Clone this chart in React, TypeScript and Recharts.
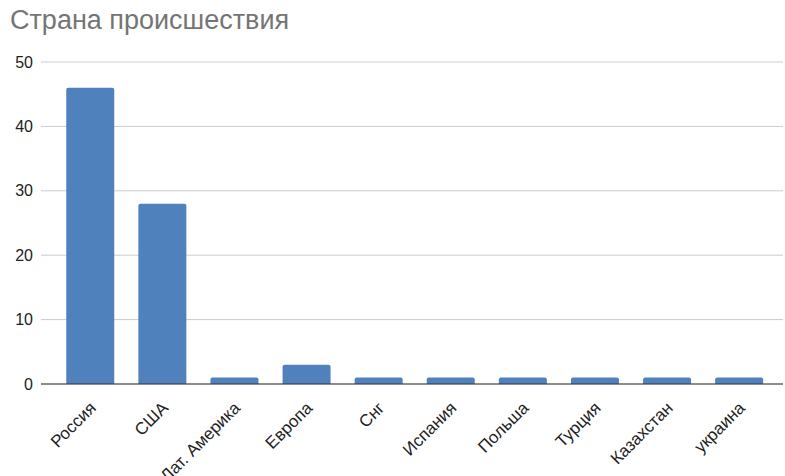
import { BarChart, Bar, XAxis, YAxis, CartesianGrid } from 'recharts';

const countries = ['Россия', 'США', 'Лат. Америка', 'Европа', 'Снг', 'Испания', 'Польша', 'Турция', 'Казахстан', 'украина'];
const incidents = [46, 28, 1, 3, 1, 1, 1, 1, 1, 1];
const yTicks = [0, 10, 20, 30, 40, 50];

const data = countries.map((name, i) => ({ name, count: incidents[i] }));

const FONT = '"Liberation Sans", Arial, sans-serif';

function RotatedTick({ x, y, payload }: any) {
  return (
    <text
      transform={`translate(${x + 7},${y + 17}) rotate(-45)`}
      textAnchor="end"
      fontSize={17}
      fontFamily={FONT}
      fill="#222"
    >
      {payload.value}
    </text>
  );
}

export default function App() {
  return (
    <div style={{ position: 'absolute', left: 0, top: 0, width: 785, height: 476, background: '#fff' }}>
      <div style={{ position: 'absolute', left: 10, top: 5, fontFamily: FONT, fontSize: 27, color: '#757575' }}>
        Страна происшествия
      </div>
      <BarChart width={785} height={476} data={data} margin={{ top: 62, right: 2, bottom: 0, left: 0 }} barCategoryGap="17%">
        <CartesianGrid vertical={false} stroke="#ccc" />
        <XAxis
          dataKey="name"
          interval={0}
          height={92}
          tickLine={false}
          axisLine={{ stroke: '#333' }}
          padding={{ left: 13, right: 8 }}
          tick={<RotatedTick />}
        />
        <YAxis
          width={41}
          domain={[0, 50]}
          ticks={yTicks}
          tickLine={false}
          axisLine={false}
          tickSize={0}
          tickMargin={8}
          tick={{ fontSize: 16, fontFamily: FONT, fill: '#222' }}
        />
        <Bar dataKey="count" fill="#4f81bd" radius={[2, 2, 0, 0]} isAnimationActive={false} />
      </BarChart>
    </div>
  );
}
